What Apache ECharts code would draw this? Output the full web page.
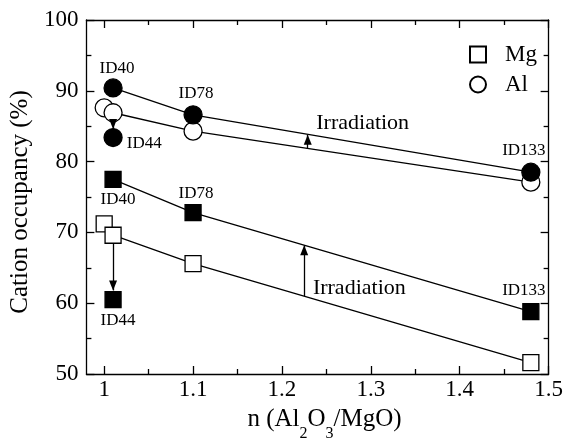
<!DOCTYPE html>
<html><head><meta charset="utf-8">
<script src="https://cdn.jsdelivr.net/npm/echarts@6/dist/echarts.min.js"></script>
<style>html,body{margin:0;padding:0;background:#fff}#c{width:566px;height:447px}</style>
</head><body><div id="c"></div>
<script>
// ---- data ----
const xMajorTicks = [1, 1.1, 1.2, 1.3, 1.4, 1.5];
const xMinorTicks = [1.05, 1.15, 1.25, 1.35, 1.45];
const yTicks = [50, 60, 70, 80, 90, 100];
const sampleNames = ['ID40', 'ID78', 'ID133'];
const nValues = [1.01, 1.1, 1.48];
const alIrradiated = [90.4, 86.6, 78.5];
const alUnirradiated = [86.9, 84.3, 77.1];
const mgIrradiated = [77.5, 72.8, 58.8];
const mgUnirradiated = [69.6, 65.6, 51.6];
const refN = 1.0;
const alRef = 87.6;
const mgRef = 71.2;
const id44Name = 'ID44';
const id44N = 1.01;
const alId44 = 83.4;
const mgId44 = 60.5;
// arrows: [x, yFrom, yTo]
const arrows = [[1.01, 85.7, 84.6], [1.01, 68.5, 61.8], [1.229, 81.8, 83.8], [1.225, 61.0, 68.2]];
const annotText = 'Irradiation';
const annotPos = [[1.2386, 85.4], [1.2348, 62.1]];

// ---- styles ----
const FONT = '"Liberation Serif","Times New Roman",serif';
const LW = 1.3;
const txt = (size) => ({ fontFamily: FONT, fontSize: size, color: '#000' });
const idLabel = (text, position, distance, offset) => ({
  show: true, formatter: text, position: position, distance: distance, offset: offset, ...txt(17)
});

const alLabelPlace = [['top', 1, [4, 0]], ['top', 3.5, [3, 0]], ['top', 3.5, [-7, 0]]];
const mgLabelPlace = [['bottom', 3.5, [5, 0]], ['top', 2, [3, 0]], ['top', 4, [-7, 0]]];

function lineSeries(name, ys, symbol, size, fill, places) {
  return {
    name: name, type: 'line', xAxisIndex: 0, yAxisIndex: 0,
    symbol: symbol, symbolSize: size, showAllSymbol: true,
    lineStyle: { color: '#000', width: LW },
    itemStyle: { color: fill, borderColor: '#000', borderWidth: LW },
    data: nValues.map((x, i) => places ? {
      value: [x, ys[i]],
      label: idLabel(sampleNames[i], places[i][0], places[i][1], places[i][2])
    } : [x, ys[i]]),
    emphasis: { disabled: true }, silent: true, animation: false, z: 3
  };
}
function pointSeries(name, pts, symbol, size, fill, label) {
  return {
    name: name, type: 'scatter', xAxisIndex: 0, yAxisIndex: 0,
    symbol: symbol, symbolSize: size,
    itemStyle: { color: fill, borderColor: '#000', borderWidth: LW, opacity: 1 },
    data: pts.map(p => label ? { value: p, label: label } : p),
    emphasis: { disabled: true }, silent: true, animation: false, z: 3
  };
}

const axisCommon = {
  type: 'value', min: 0.98, max: 1.5,
  splitLine: { show: false }
};

const option = {
  animation: false,
  backgroundColor: '#fff',
  grid: { left: 83, right: 16, top: 20, bottom: 67, containLabel: false },
  legend: {
    left: 464, top: 38, orient: 'vertical', itemWidth: 16, itemHeight: 16, itemGap: 7,
    selectedMode: false,
    textStyle: { ...txt(23), lineHeight: 23, padding: [0, 0, 0, 14] },
    data: [{ name: 'Mg', icon: 'rect' }, { name: 'Al', icon: 'circle' }]
  },
  xAxis: [
    { ...axisCommon, position: 'bottom',
      name: '{m|n (Al}{s|2}{m|O}{s|3}{m|/MgO)}', nameLocation: 'middle', nameGap: 33,
      nameTextStyle: {
        padding: [0, 0, 0, 14],
        rich: {
          m: { ...txt(25), lineHeight: 25, verticalAlign: 'top' },
          s: { ...txt(16), lineHeight: 16, verticalAlign: 'top', padding: [19, 0, 0, 0] }
        }
      },
      axisLine: { show: true, onZero: false, lineStyle: { color: '#000', width: LW } },
      axisTick: { show: true, inside: true, length: 8, customValues: xMajorTicks, lineStyle: { color: '#000', width: LW } },
      axisLabel: { show: true, margin: 4, customValues: xMajorTicks, formatter: v => String(v), ...txt(23) }
    },
    { ...axisCommon, position: 'bottom',
      axisLine: { show: false },
      axisTick: { show: true, inside: true, length: 5, customValues: xMinorTicks, lineStyle: { color: '#000', width: LW } },
      axisLabel: { show: false }
    },
    { ...axisCommon, position: 'top',
      axisLine: { show: true, onZero: false, lineStyle: { color: '#000', width: LW } },
      axisTick: { show: true, inside: true, length: 8, customValues: xMajorTicks, lineStyle: { color: '#000', width: LW } },
      axisLabel: { show: false }
    },
    { ...axisCommon, position: 'top',
      axisLine: { show: false },
      axisTick: { show: true, inside: true, length: 5, customValues: xMinorTicks, lineStyle: { color: '#000', width: LW } },
      axisLabel: { show: false }
    }
  ],
  yAxis: [
    { type: 'value', min: yTicks[0], max: yTicks[yTicks.length - 1], interval: 10, position: 'left',
      name: 'Cation occupancy (%)', nameLocation: 'middle', nameGap: 47,
      nameTextStyle: { ...txt(25), padding: [0, 10, 0, 0] },
      splitLine: { show: false },
      axisLine: { show: true, onZero: false, lineStyle: { color: '#000', width: LW } },
      axisTick: { show: true, inside: true, length: 8, lineStyle: { color: '#000', width: LW } },
      minorTick: { show: true, splitNumber: 2, length: 5, lineStyle: { color: '#000', width: LW } },
      axisLabel: { show: true, margin: 8, ...txt(23) }
    },
    { type: 'value', min: yTicks[0], max: yTicks[yTicks.length - 1], interval: 10, position: 'right',
      splitLine: { show: false },
      axisLine: { show: true, onZero: false, lineStyle: { color: '#000', width: LW } },
      axisTick: { show: true, inside: true, length: 8, lineStyle: { color: '#000', width: LW } },
      minorTick: { show: true, splitNumber: 2, length: 5, lineStyle: { color: '#000', width: LW } },
      axisLabel: { show: false }
    }
  ],
  series: [
    pointSeries('Al ref', [[refN, alRef]], 'circle', 18, '#fff'),
    lineSeries('Al', alUnirradiated, 'circle', 18, '#fff', null),
    lineSeries('Al irradiated', alIrradiated, 'circle', 18, '#000', alLabelPlace),
    pointSeries('Al ID44', [[id44N, alId44]], 'circle', 18, '#000',
      idLabel(id44Name, 'right', 4, [0, 6.5])),
    pointSeries('Mg ref', [[refN, mgRef]], 'rect', 16, '#fff'),
    lineSeries('Mg', mgUnirradiated, 'rect', 16, '#fff', null),
    lineSeries('Mg irradiated', mgIrradiated, 'rect', 16, '#000', mgLabelPlace),
    pointSeries('Mg ID44', [[id44N, mgId44]], 'rect', 16, '#000',
      idLabel(id44Name, 'bottom', 3.5, [5, 0])),
    {
      name: 'annot', type: 'scatter', xAxisIndex: 0, yAxisIndex: 0,
      symbol: 'circle', symbolSize: 0.01, itemStyle: { color: '#000', opacity: 1 },
      label: { show: true, position: 'right', distance: 0, formatter: annotText, ...txt(22), opacity: 1 },
      data: annotPos,
      emphasis: { disabled: true },
      silent: true, animation: false, z: 4,
      markLine: {
        silent: true, animation: false,
        symbol: ['none', 'triangle'], symbolSize: [8, 10], symbolOffset: [[0, 0], [0, 5]],
        lineStyle: { color: '#000', width: LW, type: 'solid' },
        itemStyle: { color: '#000' },
        label: { show: false },
        emphasis: { disabled: true },
        data: arrows.map(a => [{ coord: [a[0], a[1]] }, { coord: [a[0], a[2]] }])
      }
    }
  ]
};
const chart = echarts.init(document.getElementById('c'), null, { renderer: 'canvas' });
chart.setOption(option);
</script>
</body></html>
